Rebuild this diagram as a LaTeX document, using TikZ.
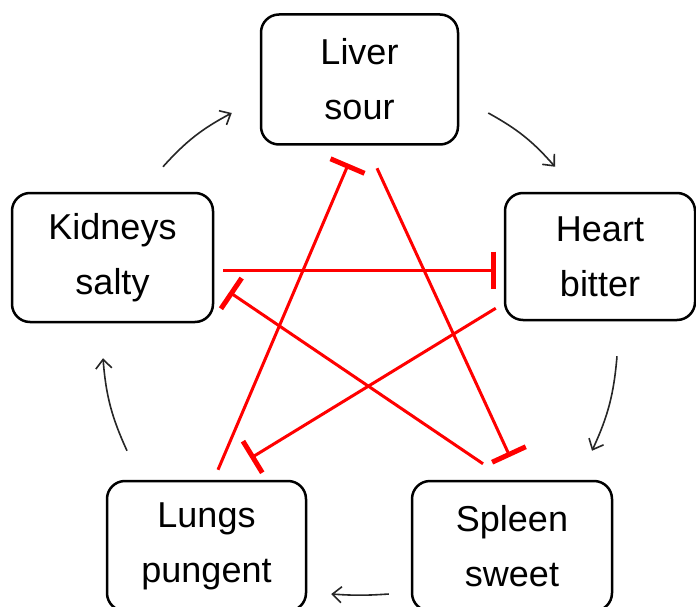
\documentclass[tikz,border=0pt]{standalone}
\usepackage{fontspec}
\setmainfont{Liberation Sans}
\usetikzlibrary{arrows.meta}
\begin{document}
\begin{tikzpicture}[x=1pt,y=-1pt,
  organ/.style={draw=black, line width=2.5pt, rounded corners=18pt, align=center,
    inner sep=0pt, font=\fontsize{36}{55}\selectfont},
  cycle/.style={draw=black!85, line width=1.6pt, -{Straight Barb[length=9pt,width=16pt,line width=1.6pt]}},
  inhib/.style={draw=red, line width=3pt, -{Bar[width=37pt,line width=5pt]}},
  plain/.style={draw=red, line width=3pt}]
\clip (0,0) rectangle (696,607);
\fill[white] (0,0) rectangle (696,607);

\node[organ, minimum width=197pt, minimum height=130pt] (liver) at (359.5,79.5) {Liver\\sour};
\node[organ, minimum width=190pt, minimum height=127pt] (heart) at (600,256.5) {Heart\\bitter};
\node[organ, minimum width=201pt, minimum height=129pt] (kidneys) at (112.5,257.5) {Kidneys\\salty};
\node[organ, minimum width=199pt, minimum height=130pt] (lungs) at (206.5,546) {Lungs\\pungent};
\node[organ, minimum width=200pt, minimum height=130pt] (spleen) at (512,546) {Spleen\\sweet};

% generating cycle
\draw[cycle] ([shift={(50.5,-25)}]kidneys.north) to[bend left=10] ([shift={(-28,33.5)}]liver.west);
\draw[cycle] ([shift={(29,33.5)}]liver.east) to[bend left=10] ([shift={(-45,-25)}]heart.north);
\draw[cycle] ([shift={(17,35)}]heart.south) to[bend left=10] ([shift={(80,-29)}]spleen.north);
\draw[cycle] ([shift={(-22,48)}]spleen.west) to[bend left=4] ([shift={(24,48)}]lungs.east);
\draw[cycle] ([shift={(-79.5,-29)}]lungs.north) to[bend left=10] ([shift={(-9.5,35)}]kidneys.south);

% controlling star
\draw[inhib] ([shift={(17.5,22.5)}]liver.south) -- ([shift={(-2,-23)}]spleen.north);
\draw[inhib] ([shift={(11.5,-10)}]lungs.north) -- ([shift={(-11,18)}]liver.south);
\draw[inhib] ([shift={(9,12.5)}]kidneys.east) -- ([shift={(-8,13.5)}]heart.west);
\draw[inhib] ([shift={(-8,-13)}]heart.south west) -- ([shift={(44,-21.5)}]lungs.north);
\draw[inhib] ([shift={(-29,-16)}]spleen.north) -- ([shift={(15,34.5)}]kidneys.east);
\end{tikzpicture}
\end{document}
